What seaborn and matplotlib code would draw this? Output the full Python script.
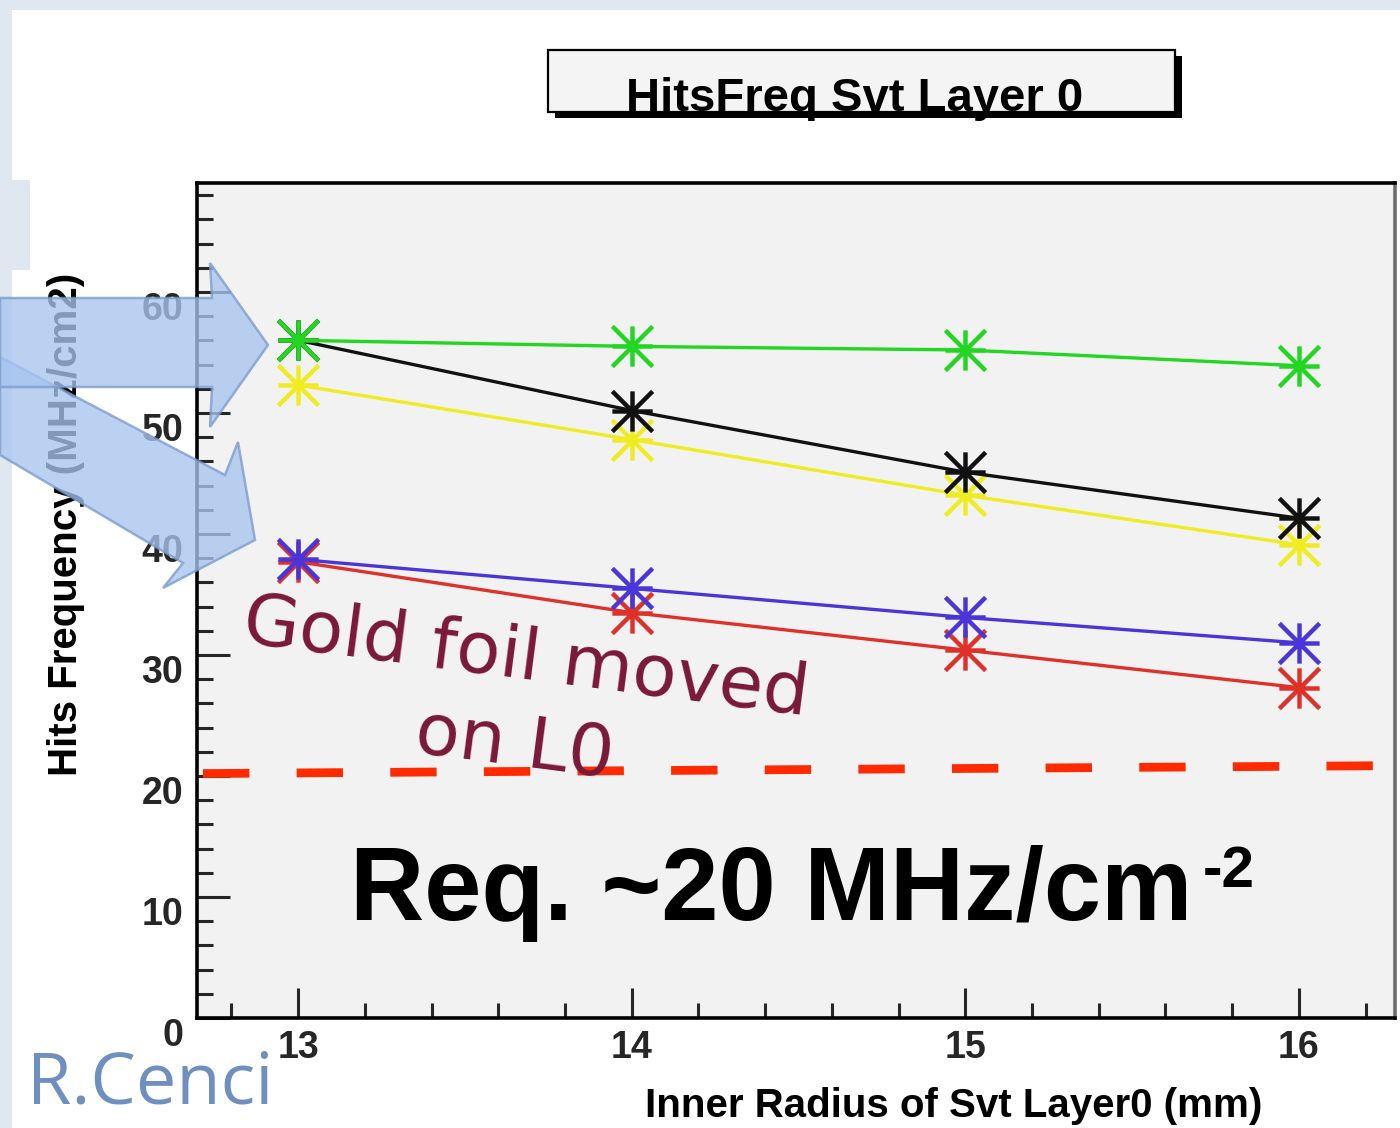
import numpy as np
import pandas as pd
import matplotlib
matplotlib.use("Agg")
import matplotlib.pyplot as plt
import seaborn as sns
from matplotlib.path import Path
from matplotlib.patches import Polygon, Rectangle
from matplotlib.ticker import MultipleLocator

# ---------------- data ----------------
radius_mm = [13, 14, 15, 16]
green_vals = [56.0, 55.5, 55.2, 53.9]
black_vals = [56.0, 50.2, 45.1, 41.3]
yellow_vals = [52.3, 47.8, 43.2, 39.1]
blue_vals = [37.9, 35.5, 33.1, 31.0]
red_vals = [37.7, 33.5, 30.4, 27.3]

series_names = ["yellow", "black", "red", "blue", "green"]
series_colors = ["#f0ec22", "#111111", "#e0302a", "#4a35d9", "#22d622"]

req_x = [12.715, 16.26]
req_y = [20.2, 20.85]

x_major = [13, 14, 15, 16]
x_tick_labels = ["13", "14", "15", "16"]
y_major = [0, 10, 20, 30, 40, 50, 60]
y_tick_labels = ["0", "10", "20", "30", "40", "50", "60"]

title_text = "HitsFreq Svt Layer 0"
x_label = "Inner Radius of Svt Layer0 (mm)"
y_label = "Hits Frequency (MHz/cm2)"
note_line1 = "Gold foil moved"
note_line2 = "on L0"
req_text = "Req. ~20 MHz/cm"
req_sup = "-2"
author = "R.Cenci"

values = {"yellow": yellow_vals, "black": black_vals, "red": red_vals,
          "blue": blue_vals, "green": green_vals}
df = pd.concat([pd.DataFrame({"radius": radius_mm, "freq": values[n], "series": n})
                for n in series_names], ignore_index=True)

# ---------------- style ----------------
sns.set_style("white")
plt.rcParams["font.family"] = ["Liberation Sans", "DejaVu Sans"]

W, H = 1400, 1128
def fx(x):
    return x / W
def fy(y):
    return 1 - y / H

fig = plt.figure(figsize=(14, 11.28), dpi=100, facecolor="white")

# slide background strips
for (x0, y0, x1, y1) in [(0, 0, 12, 1128), (0, 0, 1400, 10), (0, 180, 30, 270)]:
    fig.add_artist(Rectangle((fx(x0), fy(y1)), fx(x1) - fx(x0), fy(y0) - fy(y1),
                             transform=fig.transFigure, facecolor="#dfe7f1",
                             edgecolor="none", zorder=-5))

ax = fig.add_axes([fx(197), fy(1018), fx(1395) - fx(197), fy(183) - fy(1018)])
ax.set_facecolor("#f2f2f2")

star_path = Path([(-1, 0), (1, 0), (0, -1), (0, 1), (-1, -1), (1, 1), (-1, 1), (1, -1)],
                 [Path.MOVETO, Path.LINETO] * 4)

for name, col in zip(series_names, series_colors):
    sub = df[df["series"] == name]
    sns.lineplot(data=sub, x="radius", y="freq", color=col, ax=ax,
                 marker=star_path, markersize=29, markeredgewidth=3.2,
                 markeredgecolor=col, markerfacecolor=col, linewidth=2.4)

# requirement line
ax.plot(req_x, req_y, color="#ff2a00", linewidth=6.3, dashes=(5.3, 5.4),
        solid_capstyle="butt", dash_capstyle="butt", zorder=3)

ax.set_xlim(12.697, 16.288)
ax.set_ylim(0, 69)
ax.set_xticks(x_major, labels=x_tick_labels, fontsize=27, fontweight="bold")
ax.set_yticks(y_major, labels=y_tick_labels, fontsize=27, fontweight="bold", va="top")
ax.xaxis.set_minor_locator(MultipleLocator(0.2))
ax.yaxis.set_minor_locator(MultipleLocator(2))
ax.tick_params(axis="x", which="major", direction="in", length=21.5, width=2.2, pad=9,
               bottom=True, top=False)
ax.tick_params(axis="x", which="minor", direction="in", length=11, width=2.2,
               bottom=True, top=False)
ax.tick_params(axis="y", which="major", direction="in", length=24, width=2.2, pad=10,
               left=True, right=False)
ax.tick_params(axis="y", which="minor", direction="in", length=11.5, width=2.2,
               left=True, right=False)
ax.set_xlabel("")
ax.set_ylabel("")
for s in ax.spines.values():
    s.set_visible(True)
    s.set_linewidth(2.6)
    s.set_color("black")
ax.spines["right"].set_color("#6e6e6e")

# axis titles
fig.text(fx(66), fy(524), y_label, rotation=90, ha="center", va="center",
         fontsize=29, fontweight="bold", color="black")
fig.text(fx(954), fy(1106), x_label, ha="center", va="center",
         fontsize=29, fontweight="bold", color="black")

# title box with shadow
fig.add_artist(Rectangle((fx(555), fy(118)), fx(1182) - fx(555), fy(56) - fy(118),
                         transform=fig.transFigure, facecolor="black",
                         edgecolor="none", zorder=1))
fig.add_artist(Rectangle((fx(548), fy(112)), fx(1175) - fx(548), fy(50) - fy(112),
                         transform=fig.transFigure, facecolor="#f4f4f4",
                         edgecolor="black", linewidth=1.6, zorder=2))
fig.text(fx(855), fy(111), title_text, ha="center", va="baseline",
         fontsize=34, fontweight="bold", color="black", zorder=3)
fig.add_artist(Rectangle((fx(555), fy(118)), fx(1182) - fx(555), fy(111) - fy(118),
                         transform=fig.transFigure, facecolor="black",
                         edgecolor="none", zorder=4))

# annotations
fig.text(fx(241), fy(642), note_line1, ha="left", va="baseline", rotation=-7.4,
         rotation_mode="anchor", fontsize=52, color="#7a1838",
         family=["DejaVu Sans"], zorder=6)
fig.text(fx(413), fy(752), note_line2, ha="left", va="baseline", rotation=-7.4,
         rotation_mode="anchor", fontsize=52, color="#7a1838",
         family=["DejaVu Sans"], zorder=6)
fig.text(fx(350), fy(920), req_text, ha="left", va="baseline",
         fontsize=74, fontweight="bold", color="black", zorder=6)
fig.text(fx(1203), fy(845), req_sup, ha="left", va="top",
         fontsize=42, fontweight="bold", color="black", zorder=6)
fig.text(fx(27), fy(1103), author, ha="left", va="baseline",
         fontsize=52, color="#6f8fc0", family=["Open Sans", "DejaVu Sans"], zorder=6)

# big translucent arrows
arrow1 = [(0, 298), (212, 298), (210, 263), (268, 345), (210, 427), (212, 387), (0, 387)]
arrow2 = [(0, 357), (225, 475), (238, 442), (255, 540), (163, 588), (183, 563), (0, 455)]
for poly in (arrow2, arrow1):
    fig.add_artist(Polygon([(fx(a), fy(b)) for a, b in poly], closed=True,
                           transform=fig.transFigure, facecolor="#a7c5ef",
                           edgecolor="#7b9ccc", linewidth=1.8, alpha=0.78, zorder=7))

fig.savefig("out.png", dpi=100, facecolor="white")
